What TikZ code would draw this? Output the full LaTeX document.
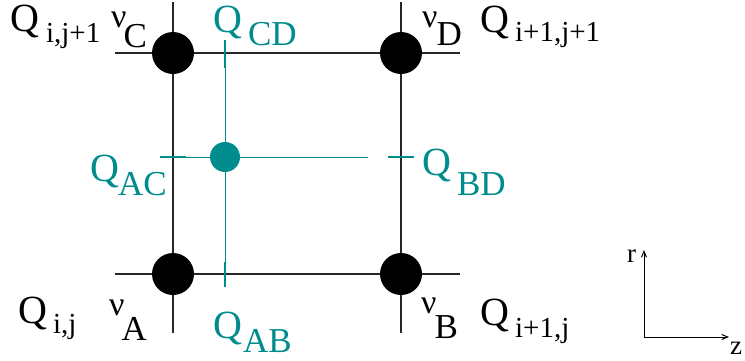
\documentclass[tikz,border=0pt]{standalone}
\usepackage{fontspec}
\setmainfont{Liberation Serif}
\usetikzlibrary{arrows.meta}
\definecolor{qteal}{RGB}{0,140,140}
% label: main letter, gap, drop, subscript
\newcommand{\qlab}[4]{#1\hspace{#2}\raisebox{-#3}{#4}}
\newcommand{\fbig}{\fontsize{40}{40}\selectfont}
\newcommand{\fnu}{\fontsize{34}{34}\selectfont}
\newcommand{\fsub}{\fontsize{35}{35}\selectfont}
\newcommand{\fidx}{\fontsize{29}{29}\selectfont}

\begin{document}
\begin{tikzpicture}[x=1pt,y=-1pt,
  gridline/.style={line width=1.1pt,black!85},
  vertex/.style={circle,fill=black,inner sep=0pt,minimum size=42pt},
  midpt/.style={circle,fill=qteal,inner sep=0pt,minimum size=30pt},
  flux/.style={line width=0.9pt,qteal},
  fluxtick/.style={line width=2.4pt,qteal},
  lbl/.style={inner sep=0pt,anchor=base west},
  axis/.style={line width=1pt,-{Straight Barb[length=6pt,width=5pt]}}]
\useasboundingbox (0,0) rectangle (745,360);
% cell lines
\draw[gridline] (173,2) -- (173,333);
\draw[gridline] (401,2) -- (401,333);
\draw[gridline] (115,53) -- (460,53);
\draw[gridline] (115,274) -- (460,274);
% vertices
\node[vertex] (vA) at (173,274) {};
\node[vertex] (vB) at (401,274) {};
\node[vertex] (vC) at (173,53) {};
\node[vertex] (vD) at (401,53) {};
% half-cell lines and faces
\draw[flux] (225,41) -- (225,287);
\draw[flux] (160,157) -- (368,157);
\draw[fluxtick] (225,40) -- (225,68);
\draw[fluxtick] (225,262) -- (225,287);
\draw[fluxtick] (160,157) -- (186,157);
\draw[fluxtick] (388,157) -- (414,157);
\node[midpt] (m) at (225,157) {};
% vertex labels
\node[lbl] (Qc) at (10,31) {\qlab{\fbig Q}{7pt}{11pt}{\fidx i,j+1}};
\node[lbl] (nuC) at (111,27) {\qlab{\fnu ν}{-3pt}{20pt}{\fsub C}};
\node[lbl] (nuD) at (422,27) {\qlab{\fnu ν}{-1pt}{18pt}{\fsub D}};
\node[lbl] (Qd) at (480,32) {\qlab{\fbig Q}{6pt}{9pt}{\fidx i+1,j+1}};
\node[lbl] (Qa) at (18,323) {\qlab{\fbig Q}{6pt}{10pt}{\fidx i,j}};
\node[lbl] (nuA) at (109,315) {\qlab{\fnu ν}{-3pt}{25pt}{\fsub A}};
\node[lbl] (nuB) at (421,313) {\qlab{\fnu ν}{-2pt}{25pt}{\fsub B}};
\node[lbl] (Qb) at (480,325) {\qlab{\fbig Q}{6pt}{12pt}{\fidx i+1,j}};
% face labels
\begin{scope}[qteal]
\node[lbl] (QCD) at (213,32) {\qlab{\fbig Q}{6pt}{13pt}{\fsub CD}};
\node[lbl] (QAC) at (90,181) {\qlab{\fbig Q}{-1pt}{14pt}{\fsub AC}};
\node[lbl] (QBD) at (422,175) {\qlab{\fbig Q}{6pt}{20pt}{\fsub BD}};
\node[lbl] (QAB) at (213,338) {\qlab{\fbig Q}{1pt}{14pt}{\fsub AB}};
\end{scope}
% axes
\coordinate (o) at (644,337);
\coordinate (rt) at (644,250);
\coordinate (zt) at (729,337);
\draw[axis] (o) -- (rt);
\draw[axis] (o) -- (zt);
\node[lbl,font=\fontsize{27}{27}\selectfont] (r) at (627,262) {r};
\node[lbl,font=\fontsize{27}{27}\selectfont] (z) at (730,354) {z};
\end{tikzpicture}
\end{document}
